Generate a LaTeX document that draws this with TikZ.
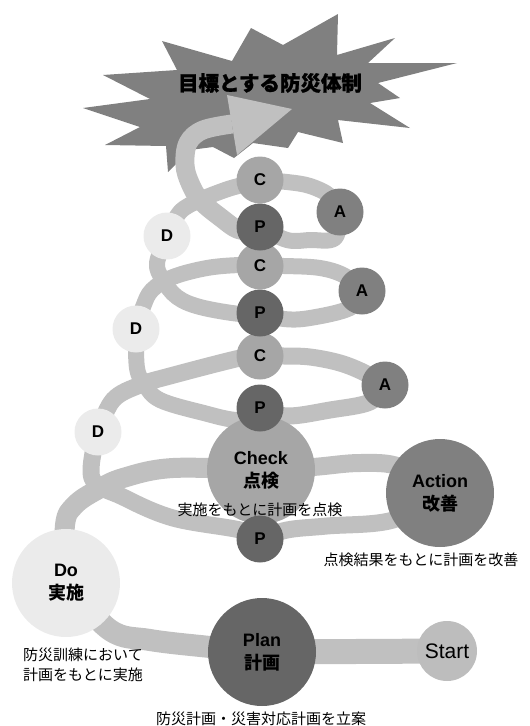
\documentclass[tikz,border=0pt]{standalone}
\usepackage{fontspec}
\setmainfont{Liberation Sans}
\newfontfamily\jp{Noto Sans CJK JP}
\newfontfamily\jptitle{Noto Sans CJK JP}[BoldFeatures={FakeBold=1.2}]
\pgfdeclarelayer{bg}
\pgfsetlayers{bg,main}
\definecolor{bandc}{HTML}{C0C0C0}
\definecolor{startc}{HTML}{BDBDBD}
\definecolor{cC}{HTML}{A6A6A6}
\definecolor{cA}{HTML}{808080}
\definecolor{cP}{HTML}{666666}
\definecolor{cD}{HTML}{EBEBEB}
\definecolor{starc}{HTML}{808080}
\tikzset{
  band/.style={draw=bandc, line width=#1, line cap=round, line join=round},
  ball/.style={circle, inner sep=0pt, minimum size=#1, align=center, text=black},
  big/.style={ball=108pt, font=\fontsize{18}{23}\selectfont},
  small/.style={ball=47pt, font=\fontsize{17}{20}\selectfont\bfseries},
  caption/.style={font=\jp\fontsize{15}{20}\selectfont, inner sep=0pt, text=black},
}
\begin{document}
\begin{tikzpicture}[x=1pt,y=-1pt]
\useasboundingbox (0,0) rectangle (530,726);

% nodes
\node[big, fill=startc, font=\fontsize{21}{24}\selectfont, minimum size=60pt] (start) at (447,651) {Start};
\node[big, fill=cP] (plan) at (262,652) {{\bfseries Plan}\\{\jp\bfseries 計画}};
\node[big, fill=cD] (do) at (66,583) {{\bfseries Do}\\{\jp\bfseries 実施}};
\node[big, fill=cC] (check) at (261,470) {{\bfseries Check}\\{\jp\bfseries 点検}};
\node[big, fill=cA] (action) at (440,493) {{\bfseries Action}\\{\jp\bfseries 改善}};
\node[small, fill=cP] (p1) at (260,539) {P};
\node[small, fill=cD] (d1) at (98,432) {D};
\node[small, fill=cC] (c1) at (260,356) {C};
\node[small, fill=cA] (a1) at (385,385) {A};
\node[small, fill=cP] (p2) at (260,408) {P};
\node[small, fill=cD] (d2) at (136,329) {D};
\node[small, fill=cC] (c2) at (260,266) {C};
\node[small, fill=cA] (a2) at (362,291) {A};
\node[small, fill=cP] (p3) at (260,313) {P};
\node[small, fill=cD] (d3) at (167,236) {D};
\node[small, fill=cC] (c3) at (260,180) {C};
\node[small, fill=cA] (a3) at (340,212) {A};
\node[small, fill=cP] (p4) at (260,227) {P};
\coordinate (shaftend) at (232,124);
\coordinate (tip) at (292,109);
\coordinate (hl) at (227,95);
\coordinate (hr) at (237,155);

% captions
\node[caption] (cap1) at (260,510) {実施をもとに計画を点検};
\node[caption] (cap2) at (421,560) {点検結果をもとに計画を改善};
\node[caption, anchor=west, align=left] (cap3) at (23,665) {防災訓練において\\計画をもとに実施};
\node[caption] (cap4) at (261,719) {防災計画・災害対応計画を立案};

\begin{pgfonlayer}{bg}
% star
\fill[starc] (162,41) -- (232,61) -- (251,28) -- (283,45) -- (338,14) -- (337,55)
  -- (395,38) -- (368,63) -- (457,63) -- (378,83) -- (400,98) -- (370,103)
  -- (410,128) -- (338,120) -- (343,143) -- (298,132) -- (288,148) -- (253,143)
  -- (234,158) -- (213,147) -- (190,150) -- (168,172) -- (166,146) -- (105,145)
  -- (140,127) -- (83,108) -- (150,99) -- (103,75) -- (177,70) -- cycle;
% bands
\draw[band=25] (start.center) -- (plan.center);
\draw[band=22] plot[smooth, tension=0.6] coordinates {(plan.center) (210,647) (150,640) (110,630) (do.center)};
\draw[band=20] plot[smooth, tension=0.6] coordinates {(do.center) (65,525) (75,505) (97,490) (123,478) (173,468) (check.center)};
\draw[band=18] plot[smooth, tension=0.6] coordinates {(check.center) (313,467) (360,463) (400,467) (action.center)};
\draw[band=17] plot[smooth, tension=0.6] coordinates {(action.center) (393,520) (327,526) (287,530) (p1.center)};
\draw[band=17] plot[smooth, tension=0.6] coordinates {(p1.center) (240,530) (173,518) (123,497) (92,478) (d1.center)};
\draw[band=17] plot[smooth, tension=0.6] coordinates {(d1.center) (113,400) (140,385) (170,376) (240,358) (c1.center)};
\draw[band=17] plot[smooth, tension=0.6] coordinates {(c1.center) (284,356) (310,357) (340,363) (365,373) (a1.center)};
\draw[band=17] plot[smooth, tension=0.6] coordinates {(a1.center) (370,402) (330,410) (287,416) (p2.center)};
\draw[band=16] plot[smooth, tension=0.6] coordinates {(p2.center) (240,420) (200,412) (160,400) (145,385) (137,368) (d2.center)};
\draw[band=16] plot[smooth, tension=0.6] coordinates {(d2.center) (143,307) (152,290) (173,277) (207,268) (240,265) (c2.center)};
\draw[band=16] plot[smooth, tension=0.6] coordinates {(c2.center) (284,266) (320,268) (345,276) (a2.center)};
\draw[band=16] plot[smooth, tension=0.6] coordinates {(a2.center) (350,308) (310,318) (284,319) (p3.center)};
\draw[band=16] plot[smooth, tension=0.6] coordinates {(p3.center) (240,314) (200,307) (177,297) (163,280) (157,263) (d3.center)};
\draw[band=16] plot[smooth, tension=0.6] coordinates {(d3.center) (180,212) (200,200) (225,190) (242,185) (c3.center)};
\draw[band=16] plot[smooth, tension=0.6] coordinates {(c3.center) (287,182) (310,186) (330,196) (a3.center)};
\draw[band=16] plot[smooth, tension=0.6] coordinates {(a3.center) (335,238) (310,240) (287,240) (p4.center)};
\draw[band=19, line cap=butt] plot[smooth, tension=0.6] coordinates {(p4.center) (240,230) (220,217) (200,200) (190,183) (185,165) (188,143) (203,130) (shaftend)};
\fill[bandc] (hl) -- (tip) -- (hr) -- cycle;
\end{pgfonlayer}

\node[font=\jptitle\bfseries\fontsize{20.5}{24}\selectfont, inner sep=0pt] (title) at (270,83) {目標とする防災体制};
\end{tikzpicture}
\end{document}
